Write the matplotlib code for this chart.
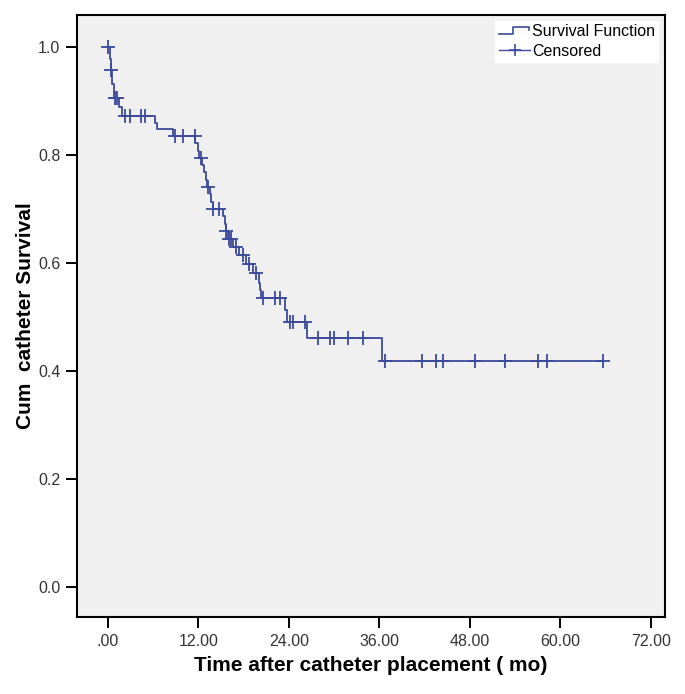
import numpy as np
import matplotlib.pyplot as plt
from matplotlib.legend_handler import HandlerBase
from matplotlib.lines import Line2D

plt.rcParams['font.family'] = ['Liberation Sans', 'DejaVu Sans']

# Kaplan-Meier steps (time in months, survival after the event)
step_times = [0.0, 0.25, 0.35, 0.6, 0.75, 1.5, 1.9, 6.2, 6.5, 8.6, 11.6, 11.9,
              12.1, 12.5, 12.8, 13.0, 13.2, 13.5, 13.7, 13.9, 15.3, 15.5, 15.65,
              15.9, 16.6, 17.4, 18.3, 19.2, 20.0, 20.2, 20.3, 23.5, 23.7, 26.4, 36.3]
step_surv = [1.0, 0.978, 0.957, 0.932, 0.905, 0.888, 0.871, 0.859, 0.848, 0.835,
             0.822, 0.808, 0.795, 0.781, 0.768, 0.754, 0.740, 0.727, 0.713, 0.700,
             0.686, 0.672, 0.658, 0.644, 0.630, 0.614, 0.598, 0.581, 0.563, 0.549,
             0.534, 0.512, 0.490, 0.460, 0.419]
# censored observations
cens_times = [0.0, 0.4, 0.9, 1.2, 2.3, 2.9, 4.4, 4.9, 8.9, 10.0, 11.5, 12.3,
              13.3, 13.95, 14.8, 15.7, 16.0, 16.3, 17.0, 17.9, 18.7, 19.7,
              20.6, 22.1, 22.8, 24.1, 24.6, 26.1, 27.9, 29.4, 30.0, 31.9, 33.9,
              36.7, 41.6, 43.5, 44.5, 48.7, 52.7, 57.1, 58.2, 65.7]
end_time = 65.7

xticks = [0, 12, 24, 36, 48, 60, 72]
xticklabels = [".00", "12.00", "24.00", "36.00", "48.00", "60.00", "72.00"]
yticks = [0.0, 0.2, 0.4, 0.6, 0.8, 1.0]

blue = "#3b4a9c"

fig = plt.figure(figsize=(6.85, 6.94), dpi=100)
ax = fig.add_axes([0.1124, 0.111, 0.8584, 0.8674])
ax.set_facecolor("#f0f0f0")

# survival curve
t_line = np.array(step_times + [end_time])
s_line = np.array(step_surv + [step_surv[-1]])
ax.step(t_line, s_line, where="post", color=blue, lw=1.3)

# censor marks sit on the curve
idx = np.searchsorted(step_times, cens_times, side="right") - 1
cens_surv = np.array(step_surv)[idx]
ax.plot(cens_times, cens_surv, ls="none", marker="+", ms=9.5, mew=1.3, color=blue)

ax.set_xlim(-4.1, 73.9)
ax.set_ylim(-0.056, 1.059)
ax.set_xticks(xticks)
ax.set_xticklabels(xticklabels)
ax.set_yticks(yticks)
ax.set_yticklabels([f"{v:.1f}" for v in yticks])
ax.tick_params(direction="out", length=8, width=1.4, labelsize=11.5,
               labelcolor="#333333", pad=4)
for sp in ax.spines.values():
    sp.set_linewidth(1.5)

ax.set_xlabel("Time after catheter placement ( mo)", fontsize=15, fontweight="bold", labelpad=5)
ax.set_ylabel("Cum  catheter Survival", fontsize=15, fontweight="bold", labelpad=2)


class StepHandler(HandlerBase):
    def create_artists(self, legend, orig_handle, xdescent, ydescent,
                       width, height, fontsize, trans):
        x0 = -xdescent
        y0 = -ydescent
        xs = [x0, x0 + width * 0.45, x0 + width * 0.45, x0 + width * 0.95, x0 + width * 0.95]
        ys = [y0 + height * 0.2, y0 + height * 0.2, y0 + height * 0.8, y0 + height * 0.8, y0 + height * 0.5]
        ln = Line2D(xs, ys, color=blue, lw=1.2, transform=trans)
        return [ln]


surv_handle = Line2D([], [], color=blue)
cens_handle = Line2D([], [], color=blue, marker="+", ms=9, mew=1.2, lw=1.0)
leg = ax.legend([surv_handle, cens_handle], ["Survival Function", "Censored"],
                handler_map={surv_handle: StepHandler()},
                loc="upper right", bbox_to_anchor=(0.994, 0.996), fontsize=11.5,
                frameon=True, fancybox=False, edgecolor="white", facecolor="white",
                framealpha=1, handlelength=2.0, handletextpad=0.1,
                borderpad=0.2, labelspacing=0.3, borderaxespad=0.2)

fig.savefig("out.png", dpi=100)
